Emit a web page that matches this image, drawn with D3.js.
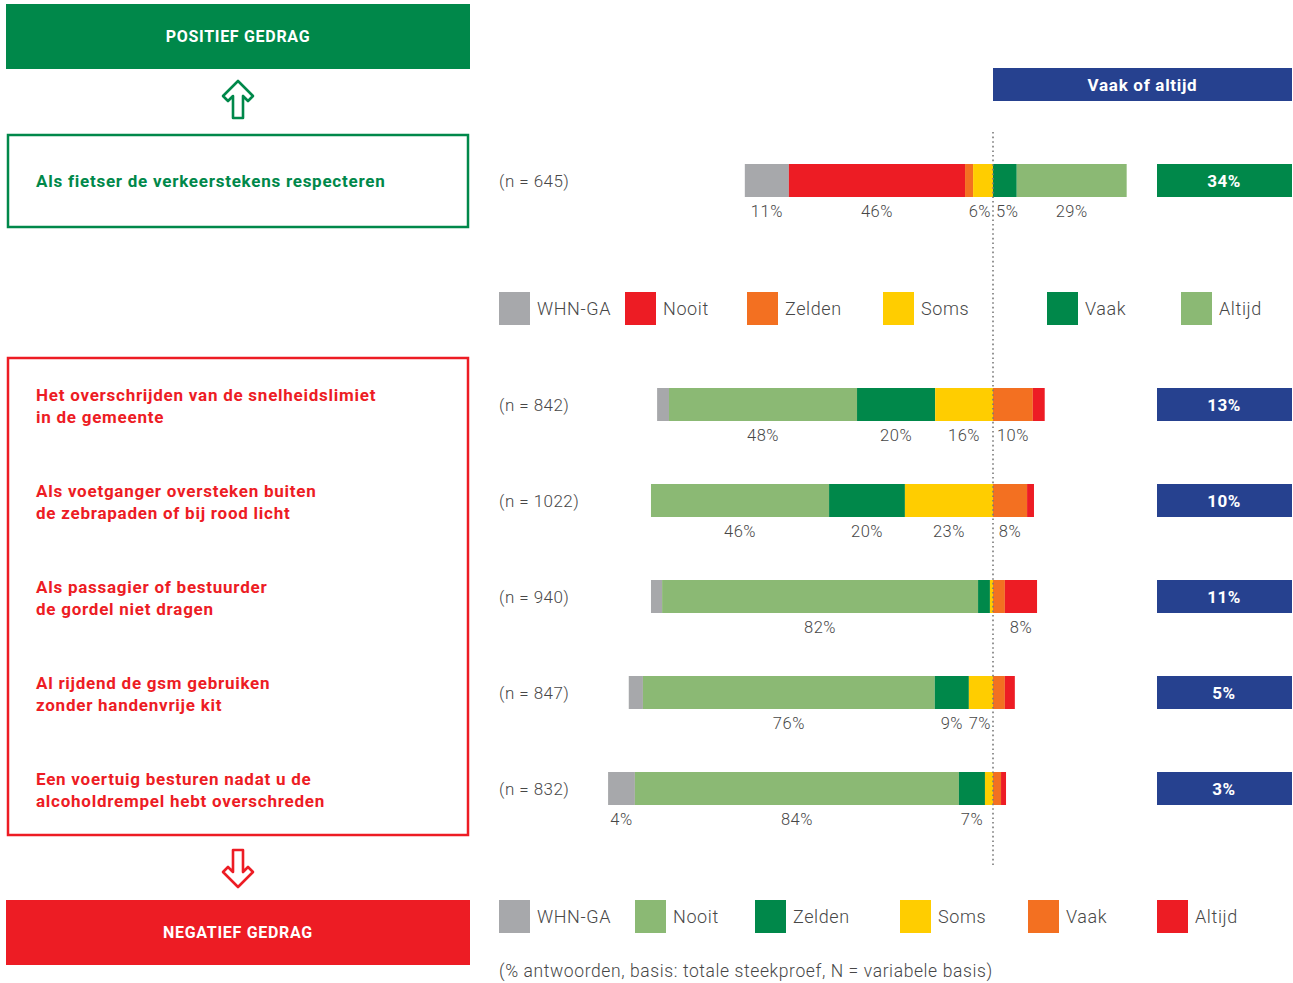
<!DOCTYPE html>
<html><head><meta charset="utf-8">
<script src="https://cdn.jsdelivr.net/npm/d3@7"></script>
<style>
html,body{margin:0;padding:0;background:#fff;}
svg{display:block;font-family:Roboto,"DejaVu Sans",sans-serif;}
</style></head>
<body><svg id="c" width="1293" height="983"></svg>
<script>
// ---------- DATA ----------
const seriesNames = ["WHN-GA","Nooit","Zelden","Soms","Vaak","Altijd"];

// Positive behaviour row
const posLabel = ["Als fietser de verkeerstekens respecteren"];
const posN = ["(n = 645)"];
const posWhn = [11.5];
const posNooit = [46];
const posZelden = [2.1];
const posSoms = [5.2];
const posVaak = [6.2];
const posAltijd = [28.7];
const posShown = [["11%","46%",null,"6%","5%","29%"]];
const posTotal = ["34%"];

// Negative behaviour rows
const negLabels = [
  ["Het overschrijden van de snelheidslimiet","in de gemeente"],
  ["Als voetganger oversteken buiten","de zebrapaden of bij rood licht"],
  ["Als passagier of bestuurder","de gordel niet dragen"],
  ["Al rijdend de gsm gebruiken","zonder handenvrije kit"],
  ["Een voertuig besturen nadat u de","alcoholdrempel hebt overschreden"]
];
const negN = ["(n = 842)","(n = 1022)","(n = 940)","(n = 847)","(n = 832)"];
const negWhn    = [3.1, 0,    2.9, 3.7, 7.0];
const negNooit  = [49.1,46.5, 82.5,76.2,84.6];
const negZelden = [20.4,19.8, 3.1, 8.9, 6.8];
const negSoms   = [15.1,23.0, 0.8, 6.3, 2.1];
const negVaak   = [10.4, 8.9, 3.1, 3.1, 2.1];
const negAltijd = [3.1, 1.8,  8.4, 2.6, 1.3];
const negShown = [
  [null,"48%","20%","16%","10%",null],
  [null,"46%","20%","23%","8%",null],
  [null,"82%",null,null,null,"8%"],
  [null,"76%","9%","7%",null,null],
  ["4%","84%","7%",null,null,null]
];
const negTotal = ["13%","10%","11%","5%","3%"];

// ---------- STYLE ----------
const C = {gray:"#a7a8ab", lgreen:"#8bb974", dgreen:"#00884a", yellow:"#ffcd00",
           orange:"#f37021", red:"#ed1c24", blue:"#26418f", text:"#474747"};
const posColors = [C.gray, C.red, C.orange, C.yellow, C.dgreen, C.lgreen];
const negColors = [C.gray, C.lgreen, C.dgreen, C.yellow, C.orange, C.red];

const svg = d3.select("#c");
const x = d3.scaleLinear().domain([-100,100]).range([993-383, 993+383]);
const x0 = x(0);
const yNeg = d3.scaleLinear().domain([0,1]).range([388,484]); // bar top by row index
const yPos = 164;
const barH = 33;

// ---------- LEFT PANEL ----------
svg.append("rect").attr("x",6).attr("y",4).attr("width",464).attr("height",65).attr("fill",C.dgreen);
svg.append("text").attr("x",238).attr("y",42).attr("text-anchor","middle").attr("fill","#fff")
  .attr("font-weight",700).attr("font-size",16).attr("letter-spacing",0.7).text("POSITIEF GEDRAG");
svg.append("rect").attr("x",6).attr("y",900).attr("width",464).attr("height",65).attr("fill",C.red);
svg.append("text").attr("x",238).attr("y",938).attr("text-anchor","middle").attr("fill","#fff")
  .attr("font-weight",700).attr("font-size",16).attr("letter-spacing",0.7).text("NEGATIEF GEDRAG");

// arrows
const upArrow = "M238,81 L253,96 L248,101 L243,96 L243,118 L233,118 L233,96 L228,101 L223,96 Z";
svg.append("path").attr("d",upArrow).attr("fill","#fff").attr("stroke",C.dgreen)
  .attr("stroke-width",2.6).attr("stroke-linejoin","round");
svg.append("path").attr("d",upArrow).attr("transform","translate(0,968) scale(1,-1)")
  .attr("fill","#fff").attr("stroke",C.red).attr("stroke-width",2.6).attr("stroke-linejoin","round");

svg.append("rect").attr("x",8).attr("y",135).attr("width",460).attr("height",92)
  .attr("fill","none").attr("stroke",C.dgreen).attr("stroke-width",2.5);
svg.append("rect").attr("x",8).attr("y",358).attr("width",460).attr("height",477)
  .attr("fill","none").attr("stroke",C.red).attr("stroke-width",2.5);

svg.append("text").attr("x",36).attr("y",yPos+barH/2+6).attr("fill",C.dgreen)
  .attr("font-weight",700).attr("font-size",17).attr("letter-spacing",0.75).text(posLabel[0]);
negLabels.forEach((lines,i)=>{
  const t = svg.append("text").attr("fill",C.red).attr("font-weight",700).attr("font-size",17)
    .attr("letter-spacing",0.75);
  lines.forEach((ln,j)=>{
    t.append("tspan").attr("x",36).attr("y",yNeg(i)+13+j*22).text(ln);
  });
});

// ---------- HEADER ----------
svg.append("rect").attr("x",x0).attr("y",68).attr("width",1292-x0).attr("height",33).attr("fill",C.blue);
svg.append("text").attr("x",(x0+1292)/2).attr("y",91).attr("text-anchor","middle").attr("fill","#fff")
  .attr("font-weight",700).attr("font-size",17).attr("letter-spacing",0.7).text("Vaak of altijd");

// ---------- BARS ----------
function drawRow(vals, colors, shown, top, nText, total, totalColor){
  // left side: indices 0..3 stacked toward zero; right side: 4..5 from zero
  const segs = [];
  let acc = 0;
  for(let k=3;k>=0;k--){ segs[k] = {k, a:-(acc+vals[k]), b:-acc}; acc += vals[k]; }
  acc = 0;
  for(let k=4;k<6;k++){ segs[k] = {k, a:acc, b:acc+vals[k]}; acc += vals[k]; }
  const g = svg.append("g");
  g.selectAll("rect").data(segs.filter(s=>s.b>s.a)).join("rect")
    .attr("x",d=>x(d.a)).attr("y",top).attr("width",d=>x(d.b)-x(d.a)).attr("height",barH)
    .attr("fill",d=>colors[d.k]);
  segs.forEach(s=>{
    const lab = shown[s.k];
    if(!lab) return;
    const t = g.append("text").attr("y",top+barH+20).attr("text-anchor","middle")
      .attr("fill",C.text).attr("font-size",16.5).attr("font-weight",300)
      .attr("letter-spacing",0.5).text(lab);
    const w = t.node().getComputedTextLength();
    let cx = (x(s.a)+x(s.b))/2;
    if(s.k<4) cx = Math.min(cx, x0 - w/2 - 2);
    else cx = Math.max(cx, x0 + w/2 + 3);
    t.attr("x",cx);
  });
  g.append("text").attr("x",499).attr("y",top+barH/2+6).attr("fill",C.text)
    .attr("font-size",17).attr("font-weight",300).attr("letter-spacing",0.45).text(nText);
  g.append("rect").attr("x",1157).attr("y",top).attr("width",135).attr("height",barH).attr("fill",totalColor);
  g.append("text").attr("x",1224).attr("y",top+barH/2+6).attr("text-anchor","middle")
    .attr("fill","#fff").attr("font-weight",700).attr("font-size",17).attr("letter-spacing",0.5).text(total);
}

drawRow([posWhn[0],posNooit[0],posZelden[0],posSoms[0],posVaak[0],posAltijd[0]],
        posColors, posShown[0], yPos, posN[0], posTotal[0], C.dgreen);
negN.forEach((n,i)=>{
  drawRow([negWhn[i],negNooit[i],negZelden[i],negSoms[i],negVaak[i],negAltijd[i]],
          negColors, negShown[i], yNeg(i), n, negTotal[i], C.blue);
});

// dotted center line
svg.append("line").attr("x1",x0).attr("x2",x0).attr("y1",132).attr("y2",868)
  .attr("stroke","#7a7a7a").attr("stroke-width",1.6).attr("stroke-dasharray","1.6,3");

// ---------- LEGENDS ----------
const legend1X = [499,625,747,883,1047,1181];
const legend2X = [499,635,755,900,1028,1157];
function legend(xs, colors, top){
  const g = svg.append("g");
  seriesNames.forEach((s,i)=>{
    g.append("rect").attr("x",xs[i]).attr("y",top).attr("width",31).attr("height",33).attr("fill",colors[i]);
    g.append("text").attr("x",xs[i]+38).attr("y",top+23).attr("fill",C.text)
      .attr("font-size",18).attr("font-weight",300).attr("letter-spacing",0.6).text(s);
  });
}
legend(legend1X, posColors, 292);
legend(legend2X, negColors, 900);

svg.append("text").attr("x",499).attr("y",977).attr("fill",C.text).attr("font-size",17.5)
  .attr("font-weight",300).attr("letter-spacing",0.6)
  .text("(% antwoorden, basis: totale steekproef, N = variabele basis)");
</script></body></html>
